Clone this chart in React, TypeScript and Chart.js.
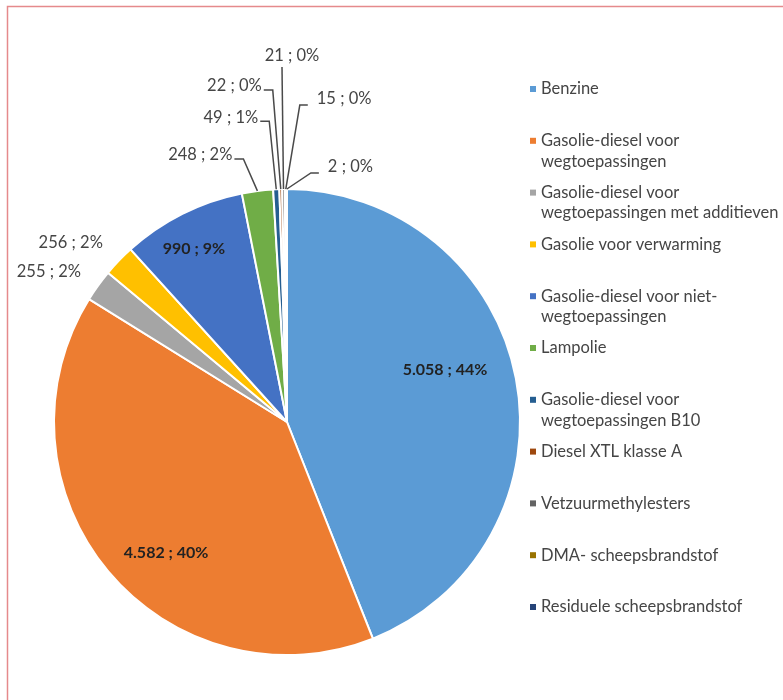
import React, { useEffect, useRef } from 'react';
import { Chart, registerables } from 'chart.js';

Chart.register(...registerables);

// ---- data ----
const categories: (string | string[])[] = [
  'Benzine',
  ['Gasolie-diesel voor', 'wegtoepassingen'],
  ['Gasolie-diesel voor', 'wegtoepassingen met additieven'],
  'Gasolie voor verwarming',
  ['Gasolie-diesel voor niet-', 'wegtoepassingen'],
  'Lampolie',
  ['Gasolie-diesel voor', 'wegtoepassingen B10'],
  'Diesel XTL klasse A',
  'Vetzuurmethylesters',
  'DMA- scheepsbrandstof',
  'Residuele scheepsbrandstof',
];
const values = [5058, 4582, 255, 256, 990, 248, 49, 22, 21, 15, 2];
const colors = [
  '#5B9BD5', '#ED7D31', '#A5A5A5', '#FFC000', '#4472C4', '#70AD47',
  '#255E91', '#9E480E', '#636363', '#997300', '#264478',
];

// ---- label placement (layout only) ----
type Place =
  | { inside: true; da: number; rf: number }
  | { inside: false; dx: number; dy: number; align: 'left' | 'right' | 'center'; leader: boolean };
const labelPlacement: Place[] = [
  { inside: true, da: -7.4, rf: 0.714 },
  { inside: true, da: -7.4, rf: 0.765 },
  { inside: false, dx: -17, dy: -14, align: 'right', leader: false },
  { inside: false, dx: -16, dy: -18, align: 'right', leader: false },
  { inside: true, da: -1.6, rf: 0.843 },
  { inside: false, dx: -25, dy: -36, align: 'right', leader: true },
  { inside: false, dx: -18, dy: -72, align: 'right', leader: true },
  { inside: false, dx: -19, dy: -103, align: 'right', leader: true },
  { inside: false, dx: 8.5, dy: -133, align: 'center', leader: true },
  { inside: false, dx: 31, dy: -90, align: 'left', leader: true },
  { inside: false, dx: 41, dy: -22, align: 'left', leader: true },
];

function fmt(v: number): string {
  return String(v).replace(/\B(?=(\d{3})+(?!\d))/g, '.');
}

// Excel-style percentages that sum to 100 (largest remainder)
function percents(vals: number[]): number[] {
  const total = vals.reduce((a, b) => a + b, 0);
  const raw = vals.map((v) => (v / total) * 100);
  const fl = raw.map((r) => Math.floor(r));
  let rest = 100 - fl.reduce((a, b) => a + b, 0);
  const order = raw.map((r, i) => ({ i, rem: r - Math.floor(r) })).sort((a, b) => b.rem - a.rem);
  for (let k = 0; k < order.length && rest > 0; k++, rest--) fl[order[k].i] += 1;
  return fl;
}

const FONT = 'Lato, "Open Sans", sans-serif';

const labelsPlugin = {
  id: 'pieLabels',
  beforeDraw(chart: any) {
    const ctx = chart.ctx;
    ctx.save();
    ctx.strokeStyle = '#E58A8C';
    ctx.lineWidth = 1.5;
    ctx.beginPath();
    ctx.moveTo(7.5, 800);
    ctx.lineTo(7.5, 6.5);
    ctx.lineTo(800, 6.5);
    ctx.stroke();
    ctx.restore();
  },
  afterDatasetsDraw(chart: any) {
    const ctx = chart.ctx;
    const meta = chart.getDatasetMeta(0);
    const pcts = percents(values);
    ctx.save();
    meta.data.forEach((arc: any, i: number) => {
      const p = labelPlacement[i];
      const { x, y, startAngle, endAngle, outerRadius } = arc.getProps(
        ['x', 'y', 'startAngle', 'endAngle', 'outerRadius'],
        true
      );
      const mid = (startAngle + endAngle) / 2;
      const text = `${fmt(values[i])} ; ${pcts[i]}%`;
      if (p.inside) {
        const a = mid + (p.da * Math.PI) / 180;
        const px = x + Math.cos(a) * outerRadius * p.rf;
        const py = y + Math.sin(a) * outerRadius * p.rf;
        ctx.font = `bold 16px ${FONT}`;
        ctx.fillStyle = '#222222';
        ctx.textAlign = 'center';
        ctx.textBaseline = 'middle';
        ctx.fillText(text, px, py);
      } else {
        const ex = x + Math.cos(mid) * outerRadius;
        const ey = y + Math.sin(mid) * outerRadius;
        const lx = ex + p.dx;
        const ly = ey + p.dy;
        if (p.leader) {
          ctx.strokeStyle = '#4A4A4A';
          ctx.lineWidth = 1.5;
          ctx.beginPath();
          if (p.align === 'right') {
            ctx.moveTo(lx + 2, ly + 4);
            ctx.lineTo(lx + 11, ly + 4);
          } else if (p.align === 'left') {
            ctx.moveTo(lx - 9, ly + 6);
            ctx.lineTo(lx - 17, ly + 6);
          } else {
            ctx.moveTo(ex - 1.5, ly + 11);
          }
          ctx.lineTo(ex, ey);
          ctx.stroke();
        }
        ctx.font = `16.5px ${FONT}`;
        ctx.fillStyle = '#454545';
        ctx.textAlign = p.align;
        ctx.textBaseline = 'middle';
        ctx.fillText(text, lx, ly);
      }
    });
    ctx.restore();
  },
  afterDraw(chart: any) {
    const ctx = chart.ctx;
    ctx.save();
    const left = 530;
    const top = 89;
    const step = 51.8;
    const lineH = 20.5;
    ctx.font = `16.5px ${FONT}`;
    ctx.textBaseline = 'middle';
    ctx.textAlign = 'left';
    categories.forEach((c, i) => {
      const yy = top + i * step;
      ctx.fillStyle = colors[i];
      ctx.fillRect(left, yy - 3, 6, 6);
      ctx.fillStyle = '#454545';
      const lines = Array.isArray(c) ? c : [c];
      lines.forEach((ln, k) => ctx.fillText(ln, left + 11, yy + k * lineH));
    });
    ctx.restore();
  },
};

export default function App() {
  const ref = useRef<HTMLCanvasElement | null>(null);
  useEffect(() => {
    if (!ref.current) return;
    const chart = new Chart(ref.current, {
      type: 'pie',
      data: {
        labels: categories as any,
        datasets: [
          {
            data: values,
            backgroundColor: colors,
            borderColor: '#FFFFFF',
            borderWidth: 2,
            hoverOffset: 0,
          },
        ],
      },
      options: {
        animation: false,
        responsive: true,
        maintainAspectRatio: false,
        radius: 233,
        layout: { padding: { left: 54, right: 263, top: 189, bottom: 45 } },
        plugins: { legend: { display: false }, tooltip: { enabled: false } },
        events: [],
      } as any,
      plugins: [labelsPlugin],
    });
    return () => chart.destroy();
  }, []);
  return (
    <div style={{ position: 'absolute', left: 0, top: 0, width: 783, height: 700, overflow: 'hidden', background: '#fff' }}>
      <canvas ref={ref} />
    </div>
  );
}
